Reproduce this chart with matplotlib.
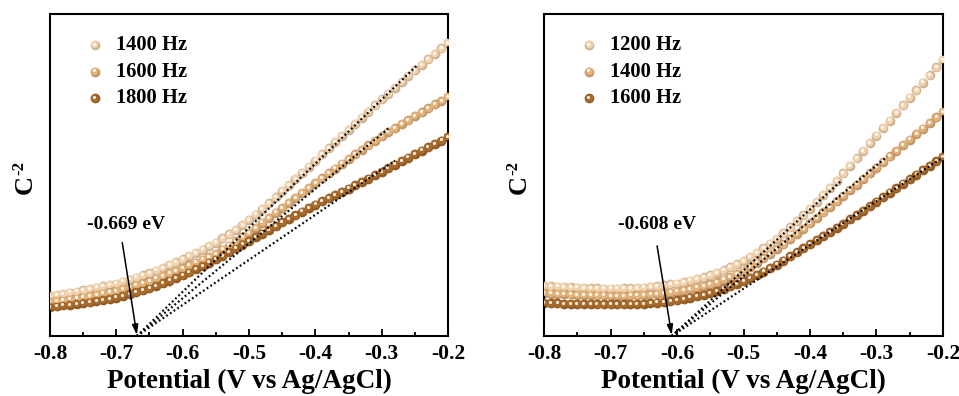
import numpy as np
import matplotlib
matplotlib.use("Agg")
import matplotlib.pyplot as plt
from matplotlib import transforms
from matplotlib.colors import to_rgb

plt.rcParams["font.family"] = ["Liberation Serif", "DejaVu Serif"]
plt.rcParams["font.weight"] = "bold"
plt.rcParams["axes.unicode_minus"] = False

# potential axis, 0.01 V step from -0.80 to -0.20
potential = np.round(np.arange(-0.80, -0.1999, 0.01), 2)

# left panel: C^-2 (arb. units, 0-100 of the axis)
left_labels = ["1400 Hz", "1600 Hz", "1800 Hz"]
left_1400 = [12.5, 12.8, 13.1, 13.5, 13.8,
             14.2, 14.6, 15.0, 15.4, 15.8,
             16.3, 16.9, 17.5, 18.1, 18.8,
             19.5, 20.3, 21.1, 22.0, 22.9,
             23.8, 24.8, 25.8, 26.8, 27.9,
             29.0, 30.3, 31.6, 33.0, 34.5,
             36.0, 37.7, 39.4, 41.2, 43.1,
             45.0, 46.9, 48.8, 50.7, 52.6,
             54.5, 56.4, 58.3, 60.2, 62.1,
             64.0, 65.9, 67.8, 69.7, 71.6,
             73.5, 75.3, 77.1, 78.9, 80.7,
             82.5, 84.2, 85.9, 87.6, 89.3,
             91.0]
left_1600 = [10.6, 10.9, 11.1, 11.4, 11.7,
             12.0, 12.4, 12.8, 13.2, 13.6,
             14.0, 14.6, 15.2, 15.8, 16.4,
             17.0, 17.8, 18.6, 19.4, 20.2,
             21.0, 21.9, 22.8, 23.7, 24.6,
             25.5, 26.8, 28.1, 29.4, 30.7,
             32.0, 33.6, 35.2, 36.7, 38.3,
             39.8, 41.3, 42.9, 44.4, 46.0,
             47.5, 49.0, 50.5, 52.0, 53.5,
             55.0, 56.4, 57.8, 59.2, 60.6,
             62.0, 63.3, 64.5, 65.8, 67.0,
             68.3, 69.5, 70.7, 71.9, 73.0,
             74.2]
left_1800 = [9.0, 9.2, 9.5, 9.7, 10.0,
             10.2, 10.5, 10.9, 11.2, 11.5,
             11.9, 12.4, 13.0, 13.6, 14.2,
             14.8, 15.6, 16.4, 17.2, 18.0,
             18.8, 19.8, 20.8, 21.8, 22.8,
             23.8, 24.9, 26.1, 27.2, 28.4,
             29.5, 30.7, 31.8, 33.0, 34.1,
             35.3, 36.4, 37.5, 38.6, 39.7,
             40.8, 41.8, 42.8, 43.8, 44.8,
             45.8, 46.8, 47.9, 48.9, 50.0,
             51.0, 52.1, 53.2, 54.3, 55.4,
             56.5, 57.6, 58.6, 59.7, 60.7,
             61.8]
left_flat_band = -0.669
left_slopes = [199, 170, 140]
left_fit_end = [-0.245, -0.29, -0.28]

# right panel
right_labels = ["1200 Hz", "1400 Hz", "1600 Hz"]
right_1200 = [15.5, 15.4, 15.3, 15.2, 15.1,
              15.0, 14.9, 14.8, 14.8, 14.7,
              14.7, 14.7, 14.8, 14.8, 14.9,
              15.0, 15.2, 15.4, 15.7, 16.0,
              16.3, 16.7, 17.2, 17.7, 18.2,
              18.8, 19.6, 20.4, 21.3, 22.3,
              23.3, 24.5, 25.8, 27.2, 28.7,
              30.2, 31.9, 33.7, 35.6, 37.5,
              39.5, 41.6, 43.8, 46.0, 48.2,
              50.5, 52.8, 55.2, 57.5, 59.9,
              62.2, 64.6, 66.9, 69.3, 71.6,
              74.0, 76.3, 78.7, 81.0, 83.4,
              85.7]
right_1400 = [13.3, 13.2, 13.1, 13.0, 12.9,
              12.8, 12.7, 12.7, 12.6, 12.6,
              12.5, 12.5, 12.5, 12.6, 12.6,
              12.7, 12.9, 13.1, 13.3, 13.5,
              13.8, 14.2, 14.6, 15.0, 15.5,
              16.0, 16.7, 17.5, 18.4, 19.3,
              20.3, 21.5, 22.8, 24.1, 25.5,
              27.0, 28.5, 30.1, 31.7, 33.3,
              35.0, 36.7, 38.4, 40.1, 41.8,
              43.5, 45.3, 47.0, 48.8, 50.5,
              52.3, 54.0, 55.8, 57.5, 59.3,
              61.0, 62.7, 64.4, 66.2, 67.9,
              69.6]
right_1600 = [10.2, 10.1, 10.1, 10.0, 10.0,
              9.9, 9.9, 9.9, 9.8, 9.8,
              9.8, 9.8, 9.8, 9.9, 9.9,
              10.0, 10.2, 10.4, 10.6, 10.8,
              11.1, 11.5, 11.9, 12.3, 12.8,
              13.3, 14.0, 14.7, 15.4, 16.2,
              17.0, 18.0, 19.0, 20.0, 21.1,
              22.2, 23.4, 24.7, 26.0, 27.2,
              28.5, 29.8, 31.0, 32.3, 33.5,
              34.8, 36.2, 37.6, 38.9, 40.3,
              41.7, 43.1, 44.5, 45.9, 47.3,
              48.7, 50.1, 51.5, 52.8, 54.2,
              55.6]
right_flat_band = -0.608
right_slopes = [189, 172, 136]
right_fit_end = [-0.352, -0.284, -0.2]

colors = ["#f2d2ad", "#e3b27b", "#a96b2c"]
xticks = [-0.8, -0.7, -0.6, -0.5, -0.4, -0.3, -0.2]


def shade(c, f):
    r, g, b = to_rgb(c)
    return (r * f, g * f, b * f)


def spheres(ax, x, y, color, ms, transform=None, clip=True):
    # fake 3D beads: darker base, lit body shifted up-left, small white highlight
    fig = ax.figure
    base = transform if transform is not None else ax.transData
    up = base + transforms.ScaledTranslation(-0.4 / 72, 0.5 / 72, fig.dpi_scale_trans)
    hi = base + transforms.ScaledTranslation(-0.6 / 72, 0.9 / 72, fig.dpi_scale_trans)
    ax.plot(x, y, "o", ms=ms, mfc=shade(color, 0.85), mec="none", transform=base,
            zorder=2, clip_on=clip)
    ax.plot(x, y, "o", ms=ms * 0.78, mfc=color, mec="none", transform=up,
            zorder=3, clip_on=clip)
    ax.plot(x, y, "o", ms=ms * 0.32, mfc="white", mec="none", alpha=0.9,
            transform=hi, zorder=4, clip_on=clip)


def panel(ax, series, labels, x0, slopes, ends, note, note_xy, arrow_from):
    for vals, c in zip(series, colors):
        spheres(ax, potential, vals, c, 7.0)
    for s, xe in zip(slopes, ends):
        ax.plot([x0, xe], [0, s * (xe - x0)], color="black", lw=1.6,
                ls=(0, (0.8, 1.2)), zorder=6)
    for i, (lab, c) in enumerate(zip(labels, colors)):
        yy = 0.904 - i * 0.083
        spheres(ax, [0.113], [yy], c, 7.0, transform=ax.transAxes, clip=False)
        ax.text(0.166, yy, lab, transform=ax.transAxes, fontsize=14.8,
                fontweight="bold", va="center", ha="left")
    ax.text(note_xy[0], note_xy[1], note, fontsize=14, fontweight="bold",
            ha="center", va="center")
    ax.annotate("", xy=(x0, 0.3), xytext=arrow_from,
                arrowprops=dict(arrowstyle="-|>,head_length=0.6,head_width=0.18",
                                color="black", lw=1.1, shrinkA=0, shrinkB=0),
                zorder=7)

    ax.set_xlim(-0.8, -0.2)
    ax.set_ylim(0, 100)
    ax.set_xticks(xticks)
    ax.set_xticklabels([f"{t:.1f}" for t in xticks])
    ax.set_xticks(np.arange(-0.75, -0.2, 0.1), minor=True)
    ax.set_yticks([])
    ax.tick_params(axis="x", which="both", direction="in", top=False,
                   labelsize=15.5, width=1.3, pad=6)
    ax.tick_params(axis="x", which="major", length=5)
    ax.tick_params(axis="x", which="minor", length=3)
    for lab in ax.get_xticklabels():
        lab.set_fontweight("bold")
    for sp in ax.spines.values():
        sp.set_linewidth(1.5)
    ax.set_xlabel("Potential (V vs Ag/AgCl)", fontsize=19.5, fontweight="bold",
                  labelpad=3)
    # "C" with a raised "-2" (plain hyphen, as in the original)
    ax.text(-0.062, 0.472, "C", transform=ax.transAxes, rotation=90,
            fontsize=19, fontweight="bold", ha="center", va="center")
    ax.text(-0.077, 0.521, "-2", transform=ax.transAxes, rotation=90,
            fontsize=12, fontweight="bold", ha="center", va="center")


fig = plt.figure(figsize=(9.59, 3.96), dpi=100)
ax1 = fig.add_axes([0.0521, 0.1515, 0.4151, 0.8131])
ax2 = fig.add_axes([0.5673, 0.1515, 0.4160, 0.8131])

panel(ax1, [left_1400, left_1600, left_1800], left_labels, left_flat_band,
      left_slopes, left_fit_end, "-0.669 eV", (-0.685, 34.5), (-0.691, 29.0))
panel(ax2, [right_1200, right_1400, right_1600], right_labels, right_flat_band,
      right_slopes, right_fit_end, "-0.608 eV", (-0.630, 34.5), (-0.630, 28.0))

fig.savefig("out.png", dpi=100)
